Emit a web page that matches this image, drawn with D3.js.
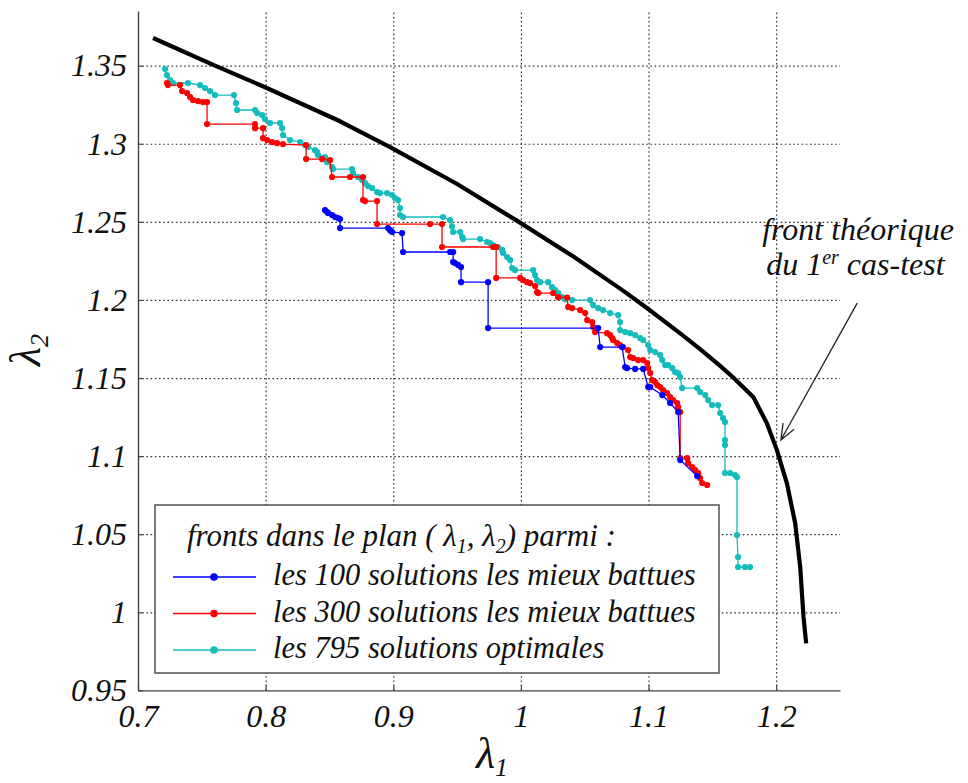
<!DOCTYPE html>
<html><head><meta charset="utf-8">
<script src="https://cdn.jsdelivr.net/npm/d3@7"></script>
</head>
<body style="margin:0;background:#fff"><svg id="chart" width="968" height="783" style="display:block;background:#fff"></svg>
<script>
// ---------- data ----------
const xTickValues = [0.7, 0.8, 0.9, 1.0, 1.1, 1.2];
const xTickLabels = ["0.7", "0.8", "0.9", "1", "1.1", "1.2"];
const yTickValues = [0.95, 1.0, 1.05, 1.1, 1.15, 1.2, 1.25, 1.3, 1.35];
const yTickLabels = ["0.95", "1", "1.05", "1.1", "1.15", "1.2", "1.25", "1.3", "1.35"];

const seriesNames = ["les 100 solutions les mieux battues", "les 300 solutions les mieux battues", "les 795 solutions optimales"];
const seriesColors = ["#0000ff", "#ff0000", "#14bcbc"];

const theoreticalFront = [[0.7118,1.3677],[0.7603,1.3500],[0.7987,1.3365],[0.8583,1.3144],[0.8975,1.2979],[0.9497,1.2744],[0.9968,1.2508],[1.0411,1.2278],[1.0803,1.2058],[1.0987,1.1948],[1.1248,1.1786],[1.1404,1.1685],[1.1561,1.1578],[1.1666,1.1502],[1.1822,1.1377],[1.1927,1.1210],[1.2005,1.1040],[1.2084,1.0826],[1.2149,1.0570],[1.2188,1.0292],[1.2214,0.9972],[1.2235,0.9801]];

const best100 = [[0.8465,1.2576],[0.8481,1.2563],[0.8489,1.2557],[0.8520,1.2544],[0.8544,1.2531],[0.8567,1.2524],[0.8583,1.2518],[0.8583,1.2460],[0.8959,1.2460],[0.8975,1.2447],[0.8991,1.2435],[0.9069,1.2428],[0.9077,1.2307],[0.9445,1.2307],[0.9469,1.2307],[0.9469,1.2243],[0.9484,1.2236],[0.9508,1.2224],[0.9531,1.2211],[0.9531,1.2114],[0.9743,1.2114],[0.9743,1.1820],[1.0605,1.1820],[1.0621,1.1698],[1.0793,1.1698],[1.0817,1.1570],[1.0832,1.1564],[1.0895,1.1558],[1.0958,1.1558],[1.0997,1.1442],[1.1013,1.1442],[1.1107,1.1391],[1.1169,1.1340],[1.1232,1.1282],[1.1248,1.0975],[1.1381,1.0872]];

const best300 = [[0.7227,1.3389],[0.7235,1.3376],[0.7329,1.3376],[0.7345,1.3337],[0.7384,1.3325],[0.7408,1.3299],[0.7431,1.3280],[0.7470,1.3273],[0.7509,1.3267],[0.7541,1.3267],[0.7541,1.3126],[0.7917,1.3126],[0.7917,1.3100],[0.7980,1.3100],[0.7980,1.3036],[0.8011,1.3024],[0.8050,1.3011],[0.8089,1.3004],[0.8136,1.2998],[0.8317,1.2992],[0.8317,1.2902],[0.8442,1.2902],[0.8505,1.2896],[0.8520,1.2787],[0.8661,1.2787],[0.8763,1.2787],[0.8763,1.2640],[0.8779,1.2633],[0.8873,1.2633],[0.8873,1.2486],[0.9288,1.2486],[0.9382,1.2486],[0.9382,1.2339],[0.9782,1.2339],[0.9806,1.2339],[0.9806,1.2141],[0.9994,1.2141],[1.0017,1.2127],[1.0049,1.2114],[1.0072,1.2108],[1.0111,1.2089],[1.0127,1.2050],[1.0135,1.2044],[1.0252,1.2044],[1.0292,1.2018],[1.0362,1.2015],[1.0370,1.1955],[1.0401,1.1948],[1.0464,1.1935],[1.0503,1.1916],[1.0519,1.1871],[1.0558,1.1858],[1.0566,1.1826],[1.0581,1.1794],[1.0675,1.1787],[1.0699,1.1775],[1.0715,1.1756],[1.0723,1.1743],[1.0754,1.1724],[1.0777,1.1711],[1.0801,1.1698],[1.0840,1.1679],[1.0856,1.1634],[1.0879,1.1628],[1.0918,1.1615],[1.0958,1.1615],[1.0989,1.1596],[1.0997,1.1564],[1.1013,1.1532],[1.1028,1.1487],[1.1052,1.1474],[1.1068,1.1455],[1.1091,1.1442],[1.1114,1.1423],[1.1146,1.1404],[1.1169,1.1378],[1.1193,1.1359],[1.1224,1.1340],[1.1232,1.1314],[1.1248,1.1282],[1.1248,1.0987],[1.1303,1.0987],[1.1310,1.0955],[1.1342,1.0930],[1.1365,1.0911],[1.1389,1.0892],[1.1404,1.0860],[1.1420,1.0828],[1.1459,1.0815]];

const optimal795 = [[0.7212,1.3478],[0.7227,1.3440],[0.7251,1.3408],[0.7274,1.3389],[0.7392,1.3389],[0.7486,1.3376],[0.7525,1.3357],[0.7564,1.3337],[0.7603,1.3312],[0.7752,1.3312],[0.7768,1.3261],[0.7776,1.3216],[0.7917,1.3216],[0.7933,1.3197],[0.7972,1.3184],[0.7995,1.3158],[0.8034,1.3133],[0.8113,1.3133],[0.8129,1.3101],[0.8136,1.3056],[0.8191,1.3024],[0.8270,1.3011],[0.8309,1.2992],[0.8332,1.2980],[0.8387,1.2959],[0.8403,1.2947],[0.8411,1.2928],[0.8465,1.2915],[0.8481,1.2883],[0.8520,1.2851],[0.8528,1.2838],[0.8677,1.2838],[0.8685,1.2812],[0.8724,1.2787],[0.8755,1.2768],[0.8779,1.2748],[0.8802,1.2729],[0.8834,1.2716],[0.8873,1.2691],[0.8897,1.2684],[0.8951,1.2684],[0.8991,1.2672],[0.9014,1.2652],[0.9038,1.2640],[0.9053,1.2588],[0.9053,1.2544],[0.9077,1.2531],[0.9390,1.2531],[0.9445,1.2511],[0.9460,1.2471],[0.9469,1.2435],[0.9524,1.2435],[0.9539,1.2403],[0.9547,1.2390],[0.9680,1.2390],[0.9735,1.2371],[0.9759,1.2364],[0.9782,1.2351],[0.9821,1.2339],[0.9853,1.2320],[0.9860,1.2301],[0.9892,1.2275],[0.9915,1.2256],[0.9931,1.2204],[0.9954,1.2191],[1.0096,1.2191],[1.0111,1.2159],[1.0127,1.2127],[1.0150,1.2114],[1.0213,1.2114],[1.0244,1.2082],[1.0268,1.2063],[1.0292,1.2044],[1.0323,1.2018],[1.0346,1.2005],[1.0401,1.1999],[1.0542,1.1999],[1.0566,1.1967],[1.0605,1.1948],[1.0644,1.1935],[1.0699,1.1916],[1.0762,1.1903],[1.0777,1.1858],[1.0777,1.1807],[1.0817,1.1794],[1.0856,1.1787],[1.0895,1.1775],[1.0934,1.1756],[1.0958,1.1743],[1.0997,1.1711],[1.1013,1.1679],[1.1052,1.1666],[1.1091,1.1647],[1.1107,1.1615],[1.1130,1.1583],[1.1154,1.1583],[1.1185,1.1564],[1.1208,1.1538],[1.1232,1.1532],[1.1248,1.1506],[1.1263,1.1436],[1.1381,1.1436],[1.1404,1.1410],[1.1444,1.1391],[1.1467,1.1359],[1.1498,1.1327],[1.1545,1.1327],[1.1561,1.1276],[1.1583,1.1244],[1.1599,1.1218],[1.1599,1.1103],[1.1599,1.1071],[1.1599,1.0892],[1.1639,1.0892],[1.1677,1.0879],[1.1693,1.0866],[1.1693,1.0495],[1.1701,1.0354],[1.1701,1.0290],[1.1755,1.0290],[1.1795,1.0290]];

const legendTitleParts = ["fronts dans le plan ( λ", "1", ", λ", "2", ") parmi :"];
const annotationLines = ["front théorique", "du 1", "er", " cas-test"];
const arrowTip = [1.2037, 1.1103];
const arrowTail = [1.2635, 1.1980];
const annotationAnchor = [1.1890, 1.2384];

// ---------- helpers ----------
const serif = (sel, size) => sel
  .attr("font-family", "Liberation Serif")
  .style("font-family", "'Liberation Serif'")
  .style("font-style", "italic")
  .style("font-size", size + "px")
  .style("fill", "#111");

// ---------- layout ----------
const svg = d3.select("#chart");
const plot = {left: 138, right: 840, top: 11, bottom: 690.4};
const x = d3.scaleLinear().domain([0.7, 1.25]).range([plot.left, plot.right]);
const y = d3.scaleLinear().domain([0.95, 1.385]).range([plot.bottom, plot.top]);

// grid
const gridStyle = g => {
  g.select(".domain").remove();
  g.selectAll(".tick line").attr("stroke", "#333").attr("stroke-width", 1.2).attr("stroke-dasharray", "1.6,2.6");
};
svg.append("g").attr("transform", `translate(0,${plot.bottom})`)
  .call(d3.axisBottom(x).tickValues(xTickValues.slice(1)).tickSize(-(plot.bottom - plot.top)).tickFormat(""))
  .call(gridStyle);
svg.append("g").attr("transform", `translate(${plot.left},0)`)
  .call(d3.axisLeft(y).tickValues(yTickValues.slice(1)).tickSize(-(plot.right - plot.left)).tickFormat(""))
  .call(gridStyle);

// theoretical front
svg.append("path").datum(theoreticalFront)
  .attr("d", d3.line().x(d => x(d[0])).y(d => y(d[1])))
  .attr("fill", "none").attr("stroke", "#000").attr("stroke-width", 4.2).attr("stroke-linejoin", "round");

// series (drawn cyan, red, blue)
const seriesData = [optimal795, best300, best100];
const seriesIdx = [2, 1, 0];
seriesData.forEach((data, k) => {
  const col = seriesColors[seriesIdx[k]];
  const g = svg.append("g");
  g.append("path").datum(data).attr("d", d3.line().x(d => x(d[0])).y(d => y(d[1])))
    .attr("fill", "none").attr("stroke", col).attr("stroke-width", 1.3);
  g.selectAll("circle").data(data).join("circle")
    .attr("cx", d => x(d[0])).attr("cy", d => y(d[1])).attr("r", 3.1).attr("fill", col);
});

// axes
const axisStyle = g => {
  g.attr("font-family", null).attr("font-size", null);
  g.select(".domain").attr("stroke", "#444").attr("stroke-width", 1.4);
  g.selectAll(".tick line").attr("stroke", "#444").attr("stroke-width", 1.2);
  serif(g.selectAll(".tick text"), 32);
};
svg.append("g").attr("transform", `translate(0,${plot.bottom})`)
  .call(d3.axisBottom(x).tickValues(xTickValues).tickFormat((d, i) => xTickLabels[i]).tickSize(-5).tickSizeOuter(0).tickPadding(14))
  .call(axisStyle);
svg.append("g").attr("transform", `translate(${plot.left},0)`)
  .call(d3.axisLeft(y).tickValues(yTickValues).tickFormat((d, i) => yTickLabels[i]).tickSize(-5).tickSizeOuter(0).tickPadding(11))
  .call(axisStyle);

// axis titles
const xt = serif(svg.append("text").attr("x", 492).attr("y", 768).attr("text-anchor", "middle"), 44);
xt.append("tspan").text("λ");
serif(xt.append("tspan").attr("dy", 8), 26).text("1");
const yt = serif(svg.append("text").attr("transform", "translate(40,350) rotate(-90)").attr("text-anchor", "middle"), 44);
yt.append("tspan").text("λ");
serif(yt.append("tspan").attr("dy", 8), 26).text("2");

// legend
const lg = svg.append("g").attr("transform", "translate(155,505)");
lg.append("rect").attr("x", 0).attr("y", 0).attr("width", 564).attr("height", 168)
  .attr("fill", "#fff").attr("stroke", "#444").attr("stroke-width", 1.4);
const title = serif(lg.append("text").attr("x", 32).attr("y", 41), 31);
legendTitleParts.forEach((p, i) => {
  const t = title.append("tspan").text(p);
  if (i % 2 === 1) serif(t.attr("dy", 7), 20);
  else if (i > 0) t.attr("dy", -7);
});
seriesNames.forEach((name, i) => {
  const ly = 72 + i * 36.5;
  lg.append("line").attr("x1", 18).attr("x2", 101).attr("y1", ly).attr("y2", ly)
    .attr("stroke", seriesColors[i]).attr("stroke-width", 1.3);
  lg.append("circle").attr("cx", 59).attr("cy", ly).attr("r", 3.8).attr("fill", seriesColors[i]);
  serif(lg.append("text").attr("x", 118).attr("y", ly + 8), 30.5).text(name);
});

// annotation
const ax = x(annotationAnchor[0]), ay = y(annotationAnchor[1]);
serif(svg.append("text").attr("x", ax).attr("y", ay), 32).text(annotationLines[0]);
const a2 = serif(svg.append("text").attr("x", ax + 4).attr("y", ay + 35), 32);
a2.append("tspan").text(annotationLines[1]);
serif(a2.append("tspan").attr("dy", -11), 20).text(annotationLines[2]);
a2.append("tspan").attr("dy", 11).text(annotationLines[3]);

const tx = x(arrowTip[0]), ty = y(arrowTip[1]);
const sx = x(arrowTail[0]), sy = y(arrowTail[1]);
const ang = Math.atan2(sy - ty, sx - tx), hl = 17, ha = 0.38;
const arrowPath = d3.path();
arrowPath.moveTo(sx, sy); arrowPath.lineTo(tx, ty);
arrowPath.moveTo(tx + hl * Math.cos(ang + ha), ty + hl * Math.sin(ang + ha));
arrowPath.lineTo(tx, ty);
arrowPath.lineTo(tx + hl * Math.cos(ang - ha), ty + hl * Math.sin(ang - ha));
svg.append("path").attr("d", arrowPath.toString()).attr("fill", "none").attr("stroke", "#222").attr("stroke-width", 1.3);
</script>
</body></html>
